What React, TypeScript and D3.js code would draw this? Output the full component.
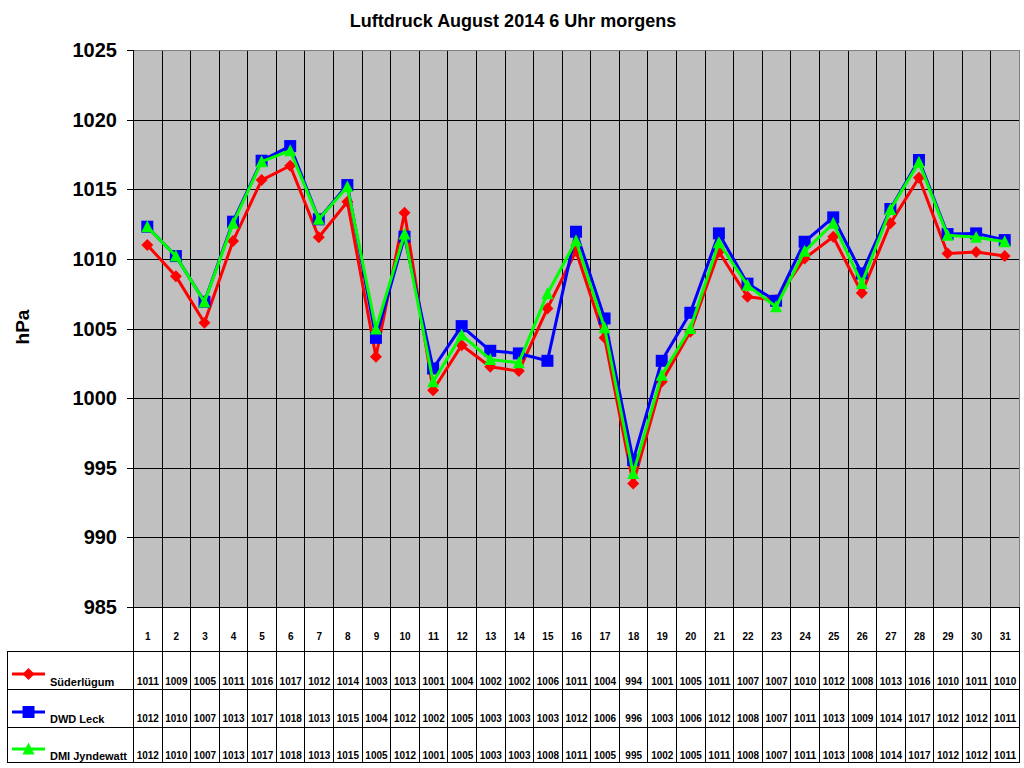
import React from "react";
import * as d3 from "d3";

const days = ["1","2","3","4","5","6","7","8","9","10","11","12","13","14","15","16","17","18","19","20","21","22","23","24","25","26","27","28","29","30","31"];

const suederluegum = [1011.0, 1008.76, 1005.41, 1011.28, 1015.66, 1016.69, 1011.55, 1014.1, 1002.97, 1013.31, 1000.57, 1003.8, 1002.25, 1001.94, 1006.44, 1010.56, 1004.33, 993.87, 1001.17, 1004.77, 1010.51, 1007.28, 1007.04, 1010.03, 1011.59, 1007.55, 1012.55, 1015.83, 1010.39, 1010.5, 1010.2];
const dwdLeck = [1012.31, 1010.2, 1006.92, 1012.67, 1017.05, 1018.1, 1012.84, 1015.3, 1004.33, 1011.59, 1002.13, 1005.17, 1003.4, 1003.21, 1002.68, 1011.95, 1005.72, 995.55, 1002.68, 1006.13, 1011.83, 1008.22, 1006.99, 1011.23, 1012.98, 1008.96, 1013.58, 1017.1, 1011.78, 1011.83, 1011.35];
const dmiJyndewatt = [1012.3, 1010.2, 1006.9, 1012.55, 1016.98, 1017.77, 1012.84, 1015.18, 1004.96, 1011.78, 1001.17, 1004.53, 1002.78, 1002.54, 1007.5, 1011.3, 1005.05, 994.59, 1001.65, 1005.0, 1011.16, 1008.1, 1006.56, 1010.55, 1012.55, 1008.24, 1013.55, 1016.93, 1011.69, 1011.55, 1011.23];

const tableSuederluegum = ["1011","1009","1005","1011","1016","1017","1012","1014","1003","1013","1001","1004","1002","1002","1006","1011","1004","994","1001","1005","1011","1007","1007","1010","1012","1008","1013","1016","1010","1011","1010"];
const tableDwdLeck = ["1012","1010","1007","1013","1017","1018","1013","1015","1004","1012","1002","1005","1003","1003","1003","1012","1006","996","1003","1006","1012","1008","1007","1011","1013","1009","1014","1017","1012","1012","1011"];
const tableDmiJyndewatt = ["1012","1010","1007","1013","1017","1018","1013","1015","1005","1012","1001","1005","1003","1003","1008","1011","1005","995","1002","1005","1011","1008","1007","1011","1013","1008","1014","1017","1012","1012","1011"];

const yTicks = [985, 990, 995, 1000, 1005, 1010, 1015, 1020, 1025];

const seriesNames = ["Süderlügum", "DWD Leck", "DMI Jyndewatt"];
const seriesColors = ["#FF0000", "#0000FF", "#00FF00"];
const seriesMarkers = ["diamond", "square", "triangle"];

const FONT = "'Liberation Sans', Arial, sans-serif";

function Marker({ type, x, y, color }: { type: string; x: number; y: number; color: string }) {
  if (type === "diamond") {
    const r = 6;
    return <path d={`M${x},${y - r}L${x + r},${y}L${x},${y + r}L${x - r},${y}Z`} fill={color} />;
  }
  if (type === "square") {
    const r = 6;
    return <rect x={x - r} y={y - r} width={2 * r} height={2 * r} fill={color} />;
  }
  const r = 6;
  return <path d={`M${x},${y - r - 0.5}L${x + r},${y + r - 0.5}L${x - r},${y + r - 0.5}Z`} fill={color} />;
}

function CellText({ x, y, s }: { x: number; y: number; s: string }) {
  const w = s.length * 5.55;
  return (
    <text x={x - w / 2} y={y} fontSize={11.5} fontWeight="bold" textLength={w} lengthAdjust="spacingAndGlyphs">{s}</text>
  );
}

export default function App() {
  const left = 133, right = 1019, top = 50, bottom = 607;
  const x = d3.scaleBand<string>().domain(days).range([left, right]);
  const y = d3.scaleLinear().domain([985, 1025]).range([bottom, top]);
  const cx = (d: string) => (x(d) as number) + x.bandwidth() / 2;

  const series = [suederluegum, dwdLeck, dmiJyndewatt];
  const tables = [tableSuederluegum, tableDwdLeck, tableDmiJyndewatt];
  const line = d3.line<number>().x((_, i) => cx(days[i])).y((v) => y(v));

  const rowLines = [651, 689, 727, 762];
  const rowBaselines = [685, 722, 759];
  const legendY = [674, 712, 749];
  const boundaries = days.map((d) => Math.round(x(d) as number)).concat([right]);

  return (
    <svg width={1024} height={768} style={{ position: "absolute", left: 0, top: 0, background: "#fff" }} fontFamily={FONT}>
      <text x={513} y={27} textAnchor="middle" fontSize={18} fontWeight="bold">Luftdruck August 2014 6 Uhr morgens</text>

      <rect x={left} y={top} width={right - left} height={bottom - top} fill="#C0C0C0" />
      {yTicks.filter((t) => t !== 985 && t !== 1025).map((t) => (
        <line key={t} x1={left} x2={right} y1={Math.round(y(t)) + 0.5} y2={Math.round(y(t)) + 0.5} stroke="#000" strokeWidth={1} />
      ))}
      {boundaries.slice(1, -1).map((bx, i) => (
        <line key={i} x1={bx + 0.5} x2={bx + 0.5} y1={top} y2={762} stroke="#000" strokeWidth={1} />
      ))}
      <line x1={left} x2={right + 0.5} y1={top + 0.5} y2={top + 0.5} stroke="#808080" />
      <line x1={right + 0.5} x2={right + 0.5} y1={top} y2={bottom} stroke="#808080" />
      <line x1={right + 0.5} x2={right + 0.5} y1={bottom} y2={762} stroke="#000" />
      <line x1={left + 0.5} x2={left + 0.5} y1={top} y2={762} stroke="#000" />
      <line x1={127} x2={right + 1} y1={bottom + 0.5} y2={bottom + 0.5} stroke="#000" />
      {yTicks.map((t) => (
        <g key={t}>
          <line x1={127} x2={left} y1={Math.round(y(t)) + 0.5} y2={Math.round(y(t)) + 0.5} stroke="#000" />
          <text x={117} y={y(t) + 7} textAnchor="end" fontSize={20} fontWeight="bold">{t}</text>
        </g>
      ))}
      <text transform="translate(29,327) rotate(-90)" textAnchor="middle" fontSize={19} fontWeight="bold">hPa</text>

      {series.map((s, si) => (
        <g key={si}>
          <path d={line(s) as string} fill="none" stroke={seriesColors[si]} strokeWidth={3} strokeLinejoin="round" />
          {s.map((v, i) => (
            <Marker key={i} type={seriesMarkers[si]} x={cx(days[i])} y={y(v)} color={seriesColors[si]} />
          ))}
        </g>
      ))}

      {/* data table */}
      {rowLines.map((ry, i) => (
        <line key={i} x1={7} x2={right + 1} y1={ry + 0.5} y2={ry + 0.5} stroke="#000" />
      ))}
      <line x1={7.5} x2={7.5} y1={651} y2={763} stroke="#000" />
      {days.map((d) => (
        <CellText key={d} x={cx(d) + 0.5} y={640} s={d} />
      ))}
      {tables.map((tv, si) => (
        <g key={si}>
          <line x1={12} x2={45} y1={legendY[si]} y2={legendY[si]} stroke={seriesColors[si]} strokeWidth={3} />
          <Marker type={seriesMarkers[si]} x={28.5} y={legendY[si]} color={seriesColors[si]} />
          <text x={50} y={rowBaselines[si] + 1} fontSize={11} fontWeight="bold">{seriesNames[si]}</text>
          {tv.map((v, i) => (
            <CellText key={i} x={cx(days[i]) + 0.5} y={rowBaselines[si]} s={v} />
          ))}
        </g>
      ))}
    </svg>
  );
}
